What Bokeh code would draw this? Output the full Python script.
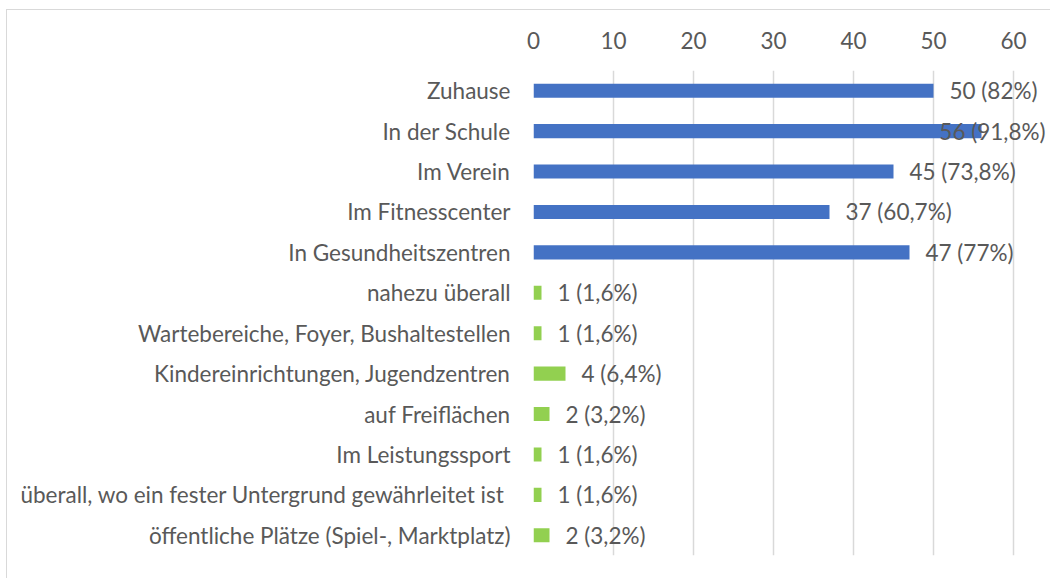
from bokeh.plotting import figure
from bokeh.models import ColumnDataSource, FactorRange, Range1d, FixedTicker
from bokeh.core.properties import value
from bokeh.embed import file_html
from bokeh.resources import INLINE

categories = [
    "Zuhause",
    "In der Schule",
    "Im Verein",
    "Im Fitnesscenter",
    "In Gesundheitszentren",
    "nahezu überall",
    "Wartebereiche, Foyer, Bushaltestellen",
    "Kindereinrichtungen, Jugendzentren",
    "auf Freiflächen",
    "Im Leistungssport",
    "überall, wo ein fester Untergrund gewährleitet ist ",
    "öffentliche Plätze (Spiel-, Marktplatz)",
]
counts = [50, 56, 45, 37, 47, 1, 1, 4, 2, 1, 1, 2]
percents = ["82%", "91,8%", "73,8%", "60,7%", "77%", "1,6%", "1,6%", "6,4%", "3,2%", "1,6%", "1,6%", "3,2%"]
groups = ["main"] * 5 + ["other"] * 7
x_ticks = [0, 10, 20, 30, 40, 50, 60]

BLUE = "#4472C4"
GREEN = "#92D050"
TEXT = "#595959"
FONT = "Lato"
FS = "22.5px"

X_END = 64.75
labels = [f"{c} ({p})" for c, p in zip(counts, percents)]
colors = [BLUE if g == "main" else GREEN for g in groups]

# label placement: right of bar, unless it would overflow the plot area
lx, offs, aligns = [], [], []
for c, lab in zip(counts, labels):
    est_w = len(lab) * 10.5 / 8.0
    if c + 2 + est_w > X_END:
        lx.append(X_END); offs.append(-6); aligns.append("right")
    else:
        lx.append(c); offs.append(16); aligns.append("left")

src = ColumnDataSource(dict(cat=categories, val=counts, color=colors,
                            label=labels, lx=lx, offs=offs, align=aligns))

p = figure(width=1044, height=569, output_backend="svg", toolbar_location=None,
           y_range=FactorRange(*reversed(categories)),
           x_range=Range1d(0, X_END), x_axis_location="above",
           min_border_left=526, min_border_right=0, min_border_top=60, min_border_bottom=24)

p.hbar(y="cat", right="val", left=0, height=0.35, color="color", source=src, line_color=None)
p.text(x="lx", y="cat", text="label", x_offset="offs", text_align="align",
       text_baseline="middle", text_font=value(FONT), text_font_size=FS,
       text_color=TEXT, source=src)

p.outline_line_color = None
p.background_fill_color = "white"
p.border_fill_color = "white"

xa = p.xaxis[0]
xa.ticker = FixedTicker(ticks=x_ticks)
xa.axis_line_color = None
xa.major_tick_line_color = None
xa.minor_tick_line_color = None
xa.major_label_text_font = FONT
xa.major_label_text_font_size = FS
xa.major_label_text_color = TEXT
xa.major_label_standoff = 16

ya = p.yaxis[0]
ya.axis_line_color = None
ya.major_tick_line_color = None
ya.minor_tick_line_color = None
ya.major_label_text_font = FONT
ya.major_label_text_font_size = FS
ya.major_label_text_color = TEXT
ya.major_label_standoff = 17

p.ygrid.grid_line_color = None
p.xgrid.grid_line_color = "#D9D9D9"
p.xgrid.grid_line_width = 1.5
p.xgrid.ticker = FixedTicker(ticks=x_ticks)

p.styles = {"border-top": "1px solid #D9D9D9", "border-left": "1px solid #D9D9D9",
            "margin-left": "6px", "margin-top": "9px"}

open("out.html", "w").write(file_html(p, INLINE))
